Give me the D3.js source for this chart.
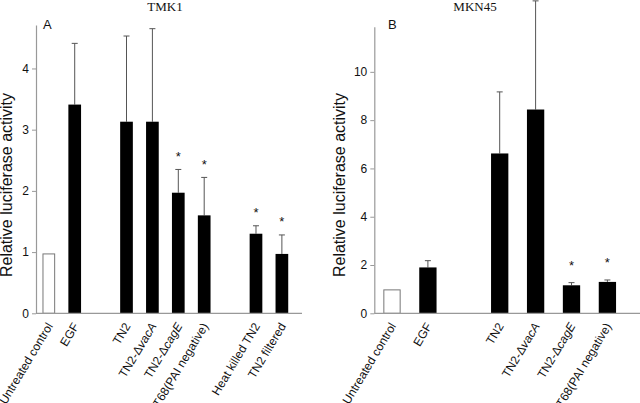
<!DOCTYPE html>
<html>
<head>
<meta charset="utf-8">
<script src="https://cdn.jsdelivr.net/npm/d3@7"></script>
<style>
  body { margin: 0; background: #fff; }
  svg { display: block; }
  text { font-family: "Liberation Sans", Arial, sans-serif; fill: #111; }
  .title { font-family: "Liberation Serif", "Times New Roman", serif; font-size: 13px; }
</style>
</head>
<body>
<svg id="chart" width="640" height="403"></svg>
<script>
// Panel A: TMK1
const tmkLabels = ['Untreated control', 'EGF', 'TN2', 'TN2-\u0394|vacA', 'TN2-\u0394|cagE', 'T68(PAI negative)', 'Heat killed TN2', 'TN2 filtered'];
const tmkSlots = [0, 1, 3, 4, 5, 6, 8, 9];
const tmkValues = [0.97, 3.41, 3.13, 3.13, 1.97, 1.6, 1.3, 0.97];
const tmkErrors = [0, 1.0, 1.4, 1.52, 0.38, 0.62, 0.13, 0.31];
const tmkStars = [false, false, false, false, true, true, true, true];
const tmkTicks = [0, 1, 2, 3, 4];

// Panel B: MKN45
const mknLabels = ['Untreated control', 'EGF', 'TN2', 'TN2-\u0394|vacA', 'TN2-\u0394|cagE', 'T68(PAI negative)'];
const mknSlots = [0, 1, 3, 4, 5, 6];
const mknValues = [0.97, 1.9, 6.62, 8.44, 1.16, 1.3];
const mknErrors = [0, 0.28, 2.55, 4.5, 0.11, 0.08];
const mknStars = [false, false, false, false, true, true];
const mknTicks = [0, 2, 4, 6, 8, 10];

const svg = d3.select('#chart');
const baseY = 313.3;

function drawPanel(p) {
  const g = svg.append('g');

  const x = d3.scaleBand()
    .domain(d3.range(p.slotCount))
    .range([p.left, p.bandEnd])
    .paddingInner(p.padIn)
    .paddingOuter(p.padOut);

  const y = d3.scaleLinear()
    .domain([0, p.yMax])
    .range([baseY, p.top]);

  const rows = p.labels.map((label, i) => ({
    label, slot: p.slots[i], value: p.values[i], err: p.errors[i], star: p.stars[i], open: i === 0
  }));

  // error bars (drawn first so bars cover the lower part)
  rows.filter(d => d.err > 0).forEach(d => {
    const cx = x(d.slot) + x.bandwidth() / 2;
    g.append('line')
      .attr('x1', cx).attr('x2', cx)
      .attr('y1', y(d.value)).attr('y2', y(d.value + d.err))
      .attr('stroke', '#555').attr('stroke-width', 1);
    g.append('line')
      .attr('x1', cx - 3).attr('x2', cx + 3)
      .attr('y1', y(d.value + d.err)).attr('y2', y(d.value + d.err))
      .attr('stroke', '#555').attr('stroke-width', 1);
  });

  // bars
  g.selectAll('rect.bar')
    .data(rows)
    .join('rect')
    .attr('class', 'bar')
    .attr('x', d => x(d.slot) + (d.open ? 0.5 : 0))
    .attr('y', d => y(d.value))
    .attr('width', d => x.bandwidth() - (d.open ? 1 : 0))
    .attr('height', d => baseY - y(d.value))
    .attr('fill', d => d.open ? '#fff' : '#000')
    .attr('stroke', d => d.open ? '#777' : 'none')
    .attr('stroke-width', 1);

  // significance stars
  g.selectAll('text.star')
    .data(rows.filter(d => d.star))
    .join('text')
    .attr('class', 'star')
    .attr('x', d => x(d.slot) + x.bandwidth() / 2)
    .attr('y', d => y(d.value + d.err) - p.starGap)
    .attr('text-anchor', 'middle')
    .attr('dy', '0.7em')
    .style('font-size', '13px')
    .text('*');

  // y axis
  const yAxis = g.append('g')
    .attr('transform', `translate(${p.left},0)`)
    .call(d3.axisLeft(y).tickValues(p.ticks).tickFormat(d3.format('d')).tickSize(4).tickSizeOuter(0));
  yAxis.select('.domain').attr('stroke', '#999').attr('stroke-width', 1.2);
  yAxis.selectAll('.tick line').attr('stroke', '#999');
  yAxis.selectAll('.tick text').style('font-size', '12px').attr('x', -7);

  // x axis line
  g.append('line')
    .attr('x1', p.left).attr('x2', p.axisEnd)
    .attr('y1', baseY).attr('y2', baseY)
    .attr('stroke', '#999').attr('stroke-width', 1.2);

  // category labels
  const lab = g.selectAll('text.cat')
    .data(rows)
    .join('text')
    .attr('class', 'cat')
    .attr('transform', d => `translate(${x(d.slot) + x.bandwidth() / 2 + 4.5},326) rotate(-59)`)
    .attr('text-anchor', 'end')
    .style('font-size', '12px');
  lab.each(function(d) {
    const parts = d.label.split('|');
    const t = d3.select(this);
    t.append('tspan').text(parts[0]);
    if (parts[1]) t.append('tspan').style('font-style', 'italic').text(parts[1]);
  });

  // y axis title
  g.append('text')
    .attr('transform', `translate(${p.yTitleX},185) rotate(-90)`)
    .attr('text-anchor', 'middle')
    .style('font-size', '16px')
    .text('Relative luciferase activity');

  // panel letter
  g.append('text')
    .attr('x', p.letterX).attr('y', 29)
    .style('font-size', '13px')
    .text(p.letter);

  // title
  g.append('text')
    .attr('class', 'title')
    .attr('x', p.titleX).attr('y', 11)
    .attr('text-anchor', 'middle')
    .text(p.title);
}

drawPanel({
  labels: tmkLabels, slots: tmkSlots, values: tmkValues, errors: tmkErrors, stars: tmkStars, ticks: tmkTicks,
  slotCount: 10, left: 36, bandEnd: 294.7, axisEnd: 302, padIn: 0.51, padOut: 0.25,
  yMax: 4.71, top: 25, starGap: 18, yTitleX: 12, letter: 'A', letterX: 43, title: 'TMK1', titleX: 165
});

drawPanel({
  labels: mknLabels, slots: mknSlots, values: mknValues, errors: mknErrors, stars: mknStars, ticks: mknTicks,
  slotCount: 7, left: 374.3, bandEnd: 625.1, axisEnd: 640, padIn: 0.518, padOut: 0.252,
  yMax: 11.87, top: 26.7, starGap: 22, yTitleX: 345, letter: 'B', letterX: 388, title: 'MKN45', titleX: 475
});
</script>
</body>
</html>
